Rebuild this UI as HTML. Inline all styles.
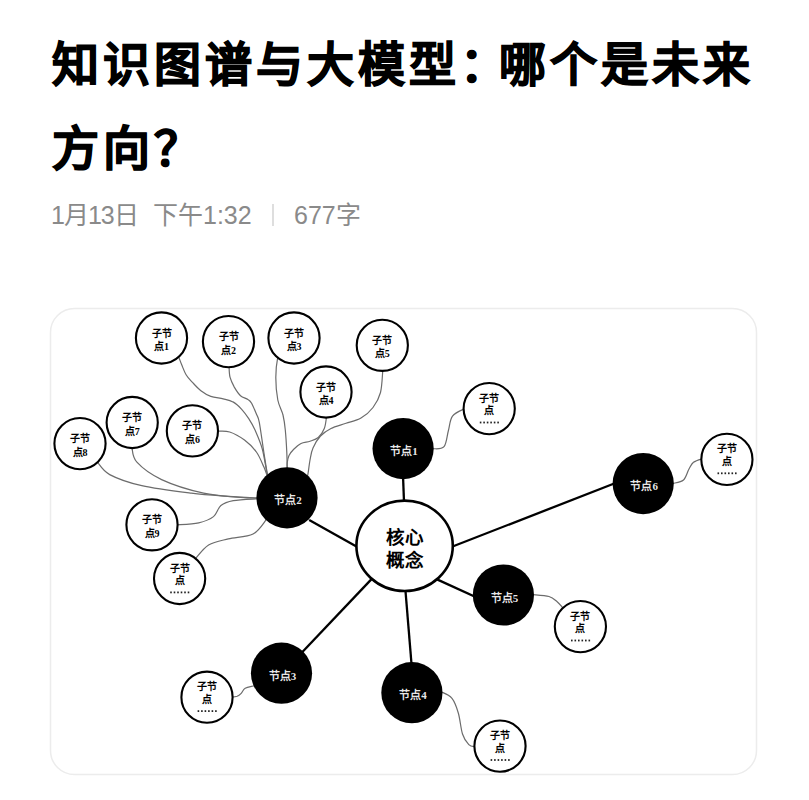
<!DOCTYPE html>
<html lang="zh-CN"><head><meta charset="utf-8"><title>知识图谱与大模型</title>
<style>
html,body{margin:0;padding:0;background:#fff;}
body{width:809px;height:800px;position:relative;overflow:hidden;font-family:"Liberation Sans",sans-serif;}
h1{position:absolute;left:52px;top:22.6px;margin:0;font-size:47px;letter-spacing:4px;line-height:84px;font-weight:700;color:#000;width:760px;white-space:nowrap;-webkit-text-stroke:1.1px #000;}
.meta{position:absolute;top:200px;font-size:25px;line-height:30px;color:#8a8a8a;white-space:nowrap;}
.sep{position:absolute;left:272px;top:204px;width:1.5px;height:21.5px;background:#dedede;}
svg{position:absolute;left:0;top:0;}
.core{font-size:18.5px;text-anchor:middle;fill:#000;font-weight:700;}
.bn{font-size:11px;text-anchor:middle;fill:#fff;font-weight:700;fill-opacity:0.92;font-family:"Liberation Serif",serif;}
.sn{font-size:10px;text-anchor:middle;fill:#000;font-weight:700;font-family:"Liberation Serif",serif;}
</style></head><body>
<h1>知识图谱与大模型<span style="letter-spacing:-7.8px">：</span>哪个是未来<br>方向？</h1>
<div class="meta" style="left:51px;letter-spacing:-1px">1月13日</div><div class="meta" style="left:153px">下午1:32</div><div class="sep"></div><div class="meta" style="left:294px">677字</div>
<svg width="809" height="800" viewBox="0 0 809 800">
<rect x="50.5" y="308.5" width="706" height="466" rx="24" ry="24" fill="#fff" stroke="#ececec" stroke-width="1.5"/>
<line x1="404.5" y1="515.0" x2="402.8" y2="470.0" stroke="#000" stroke-width="2.3"/>
<line x1="309.2" y1="519.9" x2="360.0" y2="548.6" stroke="#000" stroke-width="2.3"/>
<line x1="372.0" y1="578.6" x2="300.0" y2="654.5" stroke="#000" stroke-width="2.3"/>
<line x1="405.0" y1="585.0" x2="412.0" y2="670.0" stroke="#000" stroke-width="2.3"/>
<line x1="437.0" y1="579.4" x2="480.0" y2="599.0" stroke="#000" stroke-width="2.3"/>
<line x1="450.0" y1="547.5" x2="620.0" y2="481.3" stroke="#000" stroke-width="2.3"/>
<path d="M175.4 353.2 C175.9 353.7 177.2 354.3 178.3 356.3 C179.3 358.2 180.4 361.7 181.7 364.8 C183.0 367.9 184.3 371.8 186.1 374.7 C187.8 377.6 189.7 379.4 192.2 382.1 C194.7 384.8 197.8 388.4 200.9 390.8 C204.0 393.2 207.1 395.1 210.8 396.4 C214.5 397.7 219.5 397.9 223.2 398.8 C226.9 399.7 229.9 400.1 233.0 401.9 C236.1 403.6 239.0 406.4 241.7 409.3 C244.4 412.2 246.9 415.8 249.1 419.2 C251.3 422.6 252.7 424.7 254.9 429.7 C257.1 434.7 260.2 441.4 262.3 449.0 C264.4 456.6 266.1 470.4 267.5 475.3 C268.8 480.2 269.8 477.9 270.2 478.5" fill="none" stroke="#6c6c6c" stroke-width="1.2"/>
<path d="M229.0 362.2 C229.0 362.9 228.9 363.9 229.1 366.4 C229.2 368.9 229.1 373.7 230.0 377.2 C230.9 380.7 232.6 384.0 234.3 387.1 C236.1 390.2 238.2 393.6 240.5 395.7 C242.8 397.8 246.1 398.1 247.9 399.4 C249.8 400.6 250.2 400.7 251.6 403.2 C253.0 405.7 255.2 411.1 256.5 414.3 C257.8 417.5 258.1 416.0 259.3 422.3 C260.5 428.6 262.4 443.2 263.8 452.0 C265.2 460.8 266.6 470.7 267.7 475.1 C268.8 479.5 270.0 477.7 270.4 478.3" fill="none" stroke="#6c6c6c" stroke-width="1.2"/>
<path d="M280.6 353.6 C280.1 354.1 278.6 352.8 277.8 356.8 C277.0 360.8 275.8 370.3 275.8 377.5 C275.8 384.7 276.6 393.8 277.8 400.0 C279.0 406.2 281.8 410.0 283.0 415.0 C284.2 420.0 284.7 423.8 285.3 430.0 C285.9 436.2 286.5 446.2 286.8 452.5 C287.1 458.8 287.1 464.7 287.2 468.0 C287.3 471.3 287.2 471.5 287.2 472.2" fill="none" stroke="#6c6c6c" stroke-width="1.2"/>
<path d="M326.4 412.6 C326.4 413.3 326.8 414.1 326.5 416.8 C326.1 419.4 325.7 425.0 324.3 428.5 C322.9 432.0 320.7 435.4 318.3 437.5 C315.9 439.6 312.9 440.3 310.0 441.3 C307.1 442.3 303.8 442.1 301.0 443.5 C298.2 444.9 295.5 447.5 293.5 449.5 C291.5 451.5 290.1 453.2 289.0 455.5 C287.9 457.8 287.5 460.9 287.2 463.0 C286.9 465.1 287.2 466.5 287.2 468.0 C287.2 469.5 287.2 471.5 287.2 472.2" fill="none" stroke="#6c6c6c" stroke-width="1.2"/>
<path d="M382.7 365.9 C382.7 366.6 383.2 365.7 382.8 370.1 C382.4 374.5 382.1 386.3 380.5 392.5 C378.9 398.7 376.2 403.2 373.0 407.5 C369.8 411.8 365.5 415.4 361.0 418.0 C356.5 420.6 351.0 421.6 346.0 423.3 C341.0 425.1 335.2 426.4 331.0 428.5 C326.8 430.6 323.5 432.8 320.5 436.0 C317.5 439.2 314.8 444.0 313.0 448.0 C311.2 452.0 310.9 455.3 310.0 460.0 C309.1 464.7 308.4 472.9 307.5 476.1 C306.6 479.3 305.1 478.7 304.6 479.2" fill="none" stroke="#6c6c6c" stroke-width="1.2"/>
<path d="M213.0 431.1 C213.7 431.1 214.4 431.0 217.2 431.2 C220.0 431.3 225.1 430.5 229.7 432.0 C234.3 433.5 240.1 436.8 244.5 440.1 C248.9 443.4 253.2 447.6 256.4 452.0 C259.6 456.4 262.0 462.9 263.8 466.8 C265.6 470.7 266.2 473.5 267.3 475.5 C268.3 477.4 269.6 478.1 270.1 478.6" fill="none" stroke="#6c6c6c" stroke-width="1.2"/>
<path d="M132.0 443.1 C132.0 443.8 131.1 444.1 131.9 447.3 C132.7 450.5 132.0 456.8 136.9 462.2 C141.8 467.6 150.5 474.4 161.6 479.6 C172.7 484.8 190.4 490.2 203.6 493.2 C216.8 496.2 231.8 496.6 240.7 497.4 C249.6 498.2 253.8 497.9 257.2 498.0 C260.7 498.1 260.7 498.0 261.4 498.0" fill="none" stroke="#6c6c6c" stroke-width="1.2"/>
<path d="M94.1 458.6 C94.6 459.1 94.4 459.0 97.0 461.7 C99.6 464.3 102.2 470.6 109.7 474.6 C117.2 478.6 128.2 482.6 141.8 485.7 C155.4 488.8 176.8 491.4 191.2 493.2 C205.6 495.0 217.3 495.6 228.3 496.4 C239.3 497.2 251.7 497.8 257.2 498.1 C262.7 498.4 260.7 498.1 261.4 498.1" fill="none" stroke="#6c6c6c" stroke-width="1.2"/>
<path d="M172.6 524.8 C173.3 524.8 172.5 525.1 176.8 524.8 C181.2 524.5 192.6 524.2 198.7 522.8 C204.8 521.4 209.8 519.5 213.5 516.6 C217.2 513.7 217.6 508.2 220.9 505.5 C224.2 502.8 227.2 501.7 233.3 500.6 C239.4 499.5 252.5 499.1 257.2 498.8 C261.9 498.5 260.7 498.7 261.4 498.7" fill="none" stroke="#6c6c6c" stroke-width="1.2"/>
<path d="M192.5 562.4 C192.9 561.9 192.4 562.0 195.1 559.1 C197.8 556.2 203.1 548.4 208.6 545.0 C214.1 541.6 220.9 540.7 228.3 538.9 C235.7 537.1 246.6 537.2 253.0 534.0 C259.4 530.8 263.8 522.4 266.5 519.4 C269.3 516.5 268.9 516.9 269.4 516.4" fill="none" stroke="#6c6c6c" stroke-width="1.2"/>
<path d="M428.7 448.8 C429.4 448.8 430.3 449.2 432.9 448.8 C435.4 448.5 441.4 449.7 444.0 446.7 C446.6 443.7 446.9 436.1 448.3 431.0 C449.7 425.9 449.8 419.9 452.5 416.2 C455.2 412.5 461.7 410.1 464.4 408.9 C467.1 407.7 467.9 408.9 468.6 408.8" fill="none" stroke="#6c6c6c" stroke-width="1.2"/>
<path d="M668.8 483.4 C669.5 483.4 670.5 484.0 673.0 483.4 C675.4 482.8 680.8 482.4 683.5 480.0 C686.2 477.6 687.3 471.9 689.0 469.0 C690.7 466.1 691.3 464.0 693.5 462.3 C695.7 460.6 700.0 459.5 702.1 458.9 C704.2 458.3 705.6 459.0 706.3 459.0" fill="none" stroke="#6c6c6c" stroke-width="1.2"/>
<path d="M529.0 594.7 C529.7 594.6 529.9 594.3 533.2 594.6 C536.5 594.9 545.0 595.3 549.0 596.5 C553.0 597.7 554.5 599.5 556.9 601.5 C559.3 603.5 561.9 606.8 563.5 608.5 C565.0 610.2 565.8 611.0 566.3 611.6" fill="none" stroke="#6c6c6c" stroke-width="1.2"/>
<path d="M258.3 684.0 C257.6 684.3 256.6 685.0 254.5 685.7 C252.3 686.4 247.4 687.0 245.2 688.3 C243.0 689.6 242.5 692.0 241.2 693.3 C239.9 694.6 238.8 695.6 237.2 696.3 C235.6 696.9 233.4 697.1 231.8 697.2 C230.2 697.4 228.3 697.2 227.6 697.2" fill="none" stroke="#6c6c6c" stroke-width="1.2"/>
<path d="M437.5 692.1 C438.2 692.1 439.3 690.9 441.7 692.0 C444.1 693.0 449.2 694.8 452.0 698.3 C454.8 701.8 456.6 707.0 458.3 713.0 C460.1 719.0 460.8 728.7 462.5 734.0 C464.2 739.3 466.7 742.5 468.8 744.6 C470.9 746.7 473.4 746.4 475.2 746.7 C477.0 747.0 478.7 746.6 479.4 746.6" fill="none" stroke="#6c6c6c" stroke-width="1.2"/>
<ellipse cx="404.6" cy="545.8" rx="48.2" ry="45.2" fill="#fff" stroke="#000" stroke-width="2.6"/>
<text x="404.6" y="543.8" class="core">核心</text>
<text x="404.6" y="567.3" class="core">概念</text>
<circle cx="403.1" cy="448.6" r="30.6" fill="#000"/>
<text x="404.1" y="455.1" class="bn">节点1</text>
<circle cx="287.0" cy="497.8" r="30.6" fill="#000"/>
<text x="288.0" y="504.3" class="bn">节点2</text>
<circle cx="281.5" cy="673.2" r="30.6" fill="#000"/>
<text x="282.5" y="679.7" class="bn">节点3</text>
<circle cx="411.9" cy="692.7" r="30.6" fill="#000"/>
<text x="412.9" y="699.2" class="bn">节点4</text>
<circle cx="503.4" cy="595.0" r="30.6" fill="#000"/>
<text x="504.4" y="601.5" class="bn">节点5</text>
<circle cx="643.2" cy="483.6" r="30.6" fill="#000"/>
<text x="644.2" y="490.1" class="bn">节点6</text>
<circle cx="161.5" cy="338.0" r="25.6" fill="#fff" stroke="#000" stroke-width="2.1"/>
<text x="161.5" y="336.5" class="sn">子节</text>
<text x="161.5" y="350.0" class="sn">点1</text>
<circle cx="228.5" cy="341.6" r="25.6" fill="#fff" stroke="#000" stroke-width="2.1"/>
<text x="228.5" y="340.1" class="sn">子节</text>
<text x="228.5" y="353.6" class="sn">点2</text>
<circle cx="294.0" cy="338.0" r="25.6" fill="#fff" stroke="#000" stroke-width="2.1"/>
<text x="294.0" y="336.5" class="sn">子节</text>
<text x="294.0" y="350.0" class="sn">点3</text>
<circle cx="326.0" cy="392.0" r="25.6" fill="#fff" stroke="#000" stroke-width="2.1"/>
<text x="326.0" y="390.5" class="sn">子节</text>
<text x="326.0" y="404.0" class="sn">点4</text>
<circle cx="382.3" cy="345.3" r="25.6" fill="#fff" stroke="#000" stroke-width="2.1"/>
<text x="382.3" y="343.8" class="sn">子节</text>
<text x="382.3" y="357.3" class="sn">点5</text>
<circle cx="192.4" cy="430.9" r="25.6" fill="#fff" stroke="#000" stroke-width="2.1"/>
<text x="192.4" y="429.4" class="sn">子节</text>
<text x="192.4" y="442.9" class="sn">点6</text>
<circle cx="132.2" cy="422.5" r="25.6" fill="#fff" stroke="#000" stroke-width="2.1"/>
<text x="132.2" y="421.0" class="sn">子节</text>
<text x="132.2" y="434.5" class="sn">点7</text>
<circle cx="80.0" cy="443.6" r="25.6" fill="#fff" stroke="#000" stroke-width="2.1"/>
<text x="80.0" y="442.1" class="sn">子节</text>
<text x="80.0" y="455.6" class="sn">点8</text>
<circle cx="152.0" cy="524.8" r="25.6" fill="#fff" stroke="#000" stroke-width="2.1"/>
<text x="152.0" y="523.3" class="sn">子节</text>
<text x="152.0" y="536.8" class="sn">点9</text>
<circle cx="179.6" cy="578.5" r="25.6" fill="#fff" stroke="#000" stroke-width="2.1"/>
<text x="179.6" y="571.5" class="sn">子节</text>
<text x="179.6" y="584.0" class="sn">点</text>
<rect x="170.2" y="591.5" width="1.6" height="1.8" fill="#222"/>
<rect x="173.7" y="591.5" width="1.6" height="1.8" fill="#222"/>
<rect x="177.2" y="591.5" width="1.6" height="1.8" fill="#222"/>
<rect x="180.7" y="591.5" width="1.6" height="1.8" fill="#222"/>
<rect x="184.2" y="591.5" width="1.6" height="1.8" fill="#222"/>
<rect x="187.7" y="591.5" width="1.6" height="1.8" fill="#222"/>
<circle cx="489.2" cy="408.6" r="25.6" fill="#fff" stroke="#000" stroke-width="2.1"/>
<text x="489.2" y="401.6" class="sn">子节</text>
<text x="489.2" y="414.1" class="sn">点</text>
<rect x="479.8" y="421.6" width="1.6" height="1.8" fill="#222"/>
<rect x="483.3" y="421.6" width="1.6" height="1.8" fill="#222"/>
<rect x="486.8" y="421.6" width="1.6" height="1.8" fill="#222"/>
<rect x="490.3" y="421.6" width="1.6" height="1.8" fill="#222"/>
<rect x="493.8" y="421.6" width="1.6" height="1.8" fill="#222"/>
<rect x="497.3" y="421.6" width="1.6" height="1.8" fill="#222"/>
<circle cx="726.9" cy="459.4" r="25.6" fill="#fff" stroke="#000" stroke-width="2.1"/>
<text x="726.9" y="452.4" class="sn">子节</text>
<text x="726.9" y="464.9" class="sn">点</text>
<rect x="717.5" y="472.4" width="1.6" height="1.8" fill="#222"/>
<rect x="721.0" y="472.4" width="1.6" height="1.8" fill="#222"/>
<rect x="724.5" y="472.4" width="1.6" height="1.8" fill="#222"/>
<rect x="728.0" y="472.4" width="1.6" height="1.8" fill="#222"/>
<rect x="731.5" y="472.4" width="1.6" height="1.8" fill="#222"/>
<rect x="735.0" y="472.4" width="1.6" height="1.8" fill="#222"/>
<circle cx="580.4" cy="626.6" r="25.6" fill="#fff" stroke="#000" stroke-width="2.1"/>
<text x="580.4" y="619.6" class="sn">子节</text>
<text x="580.4" y="632.1" class="sn">点</text>
<rect x="571.0" y="639.6" width="1.6" height="1.8" fill="#222"/>
<rect x="574.5" y="639.6" width="1.6" height="1.8" fill="#222"/>
<rect x="578.0" y="639.6" width="1.6" height="1.8" fill="#222"/>
<rect x="581.5" y="639.6" width="1.6" height="1.8" fill="#222"/>
<rect x="585.0" y="639.6" width="1.6" height="1.8" fill="#222"/>
<rect x="588.5" y="639.6" width="1.6" height="1.8" fill="#222"/>
<circle cx="207.0" cy="697.2" r="25.6" fill="#fff" stroke="#000" stroke-width="2.1"/>
<text x="207.0" y="690.2" class="sn">子节</text>
<text x="207.0" y="702.7" class="sn">点</text>
<rect x="197.6" y="710.2" width="1.6" height="1.8" fill="#222"/>
<rect x="201.1" y="710.2" width="1.6" height="1.8" fill="#222"/>
<rect x="204.6" y="710.2" width="1.6" height="1.8" fill="#222"/>
<rect x="208.1" y="710.2" width="1.6" height="1.8" fill="#222"/>
<rect x="211.6" y="710.2" width="1.6" height="1.8" fill="#222"/>
<rect x="215.1" y="710.2" width="1.6" height="1.8" fill="#222"/>
<circle cx="500.0" cy="746.1" r="25.6" fill="#fff" stroke="#000" stroke-width="2.1"/>
<text x="500.0" y="739.1" class="sn">子节</text>
<text x="500.0" y="751.6" class="sn">点</text>
<rect x="490.6" y="759.1" width="1.6" height="1.8" fill="#222"/>
<rect x="494.1" y="759.1" width="1.6" height="1.8" fill="#222"/>
<rect x="497.6" y="759.1" width="1.6" height="1.8" fill="#222"/>
<rect x="501.1" y="759.1" width="1.6" height="1.8" fill="#222"/>
<rect x="504.6" y="759.1" width="1.6" height="1.8" fill="#222"/>
<rect x="508.1" y="759.1" width="1.6" height="1.8" fill="#222"/>
</svg>
</body></html>
